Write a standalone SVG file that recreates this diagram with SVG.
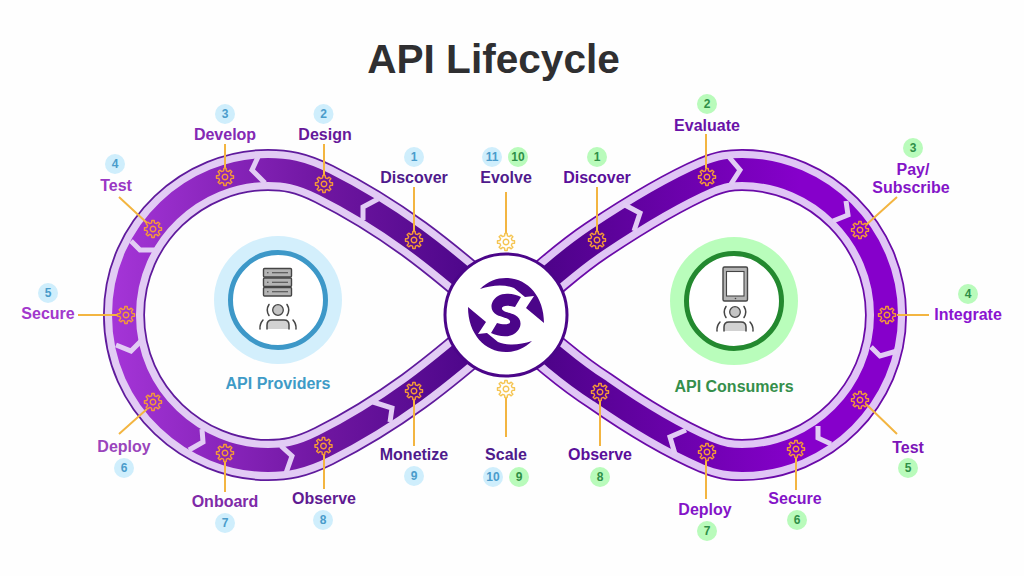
<svg xmlns="http://www.w3.org/2000/svg" width="1024" height="576" viewBox="0 0 1024 576">
<style>
text{font-family:"Liberation Sans",Arial,sans-serif;font-weight:700;text-anchor:middle}
.lb{font-size:16px}
.n{font-size:12px}
.bb{fill:#cfeefc}
.bg{fill:#b9fbbb}
.tb{fill:#4a9ccb}
.tg{fill:#2f8f47}
.c{stroke:#f3b541;stroke-width:2;fill:none}
.g{fill:none;stroke:#f59a38;stroke-width:1.4;stroke-linejoin:round}
.gy{stroke:#f5c552}
.chev{fill:none;stroke:#e2ccf4;stroke-width:5;stroke-linejoin:miter}
.ic{fill:#b4b4b4;stroke:#454545;stroke-width:1.4}
.ar{fill:none;stroke:#454545;stroke-width:1.5;stroke-linecap:round}
.hd{fill:#c4c4c4;stroke:#454545;stroke-width:1.3}
.bd{fill:#d2d2d2}
</style>
<defs>
<linearGradient id="gl" gradientUnits="userSpaceOnUse" x1="480" y1="0" x2="110" y2="0"><stop offset="0" stop-color="#4b0589"/><stop offset=".4" stop-color="#6d159f"/><stop offset="1" stop-color="#a535d8"/></linearGradient>
<linearGradient id="gr" gradientUnits="userSpaceOnUse" x1="530" y1="0" x2="800" y2="0"><stop offset="0" stop-color="#4a0385"/><stop offset="1" stop-color="#8600cb"/></linearGradient>
<g id="gear"><path d="M-1.42,-6.14L-1.2,-8.52L1.2,-8.52L1.42,-6.14L3.34,-5.34L5.18,-6.87L6.87,-5.18L5.34,-3.34L6.14,-1.42L8.52,-1.2L8.52,1.2L6.14,1.42L5.34,3.34L6.87,5.18L5.18,6.87L3.34,5.34L1.42,6.14L1.2,8.52L-1.2,8.52L-1.42,6.14L-3.34,5.34L-5.18,6.87L-6.87,5.18L-5.34,3.34L-6.14,1.42L-8.52,1.2L-8.52,-1.2L-6.14,-1.42L-5.34,-3.34L-6.87,-5.18L-5.18,-6.87L-3.34,-5.34Z"/><circle r="2.8"/></g>
<g id="person"><circle r="5.3" class="hd"/><path class="ar" d="M-9,-5.5Q-12.500,0 -9,5.500M9,-5.500Q12.500,0 9,5.500"/><path class="bd" d="M-11,19V15Q-11,10 -6,10H6Q11,10 11,15V19Z"/><path class="ar" d="M-11,19V15Q-11,10 -6,10H6Q11,10 11,15V19"/><path class="ar" d="M-18,19Q-18.500,14 -15,10M18,19Q18.500,14 15,10"/></g>
<path id="l8" d="M506,315C470,283 440,258 414,239C385,218 350,197 324,184C300,172 285,170 268,170C195,170 124,230 124,315C124,400 195,460 268,460C285,460 300,458 324,446C350,433 385,412 414,391C440,372 470,347 506,315Z"/>
<path id="r8" d="M506,315C542,283 570,258 597,240C630,218 670,193 707,177C722,171 730,170 742,170C820,170 886,235 886,315C886,395 820,460 742,460C730,460 722,459 707,453C670,437 630,412 600,391C570,372 542,347 506,315Z"/>
</defs>
<rect width="1024" height="576" fill="#fefefe"/>
<text id="title" x="493.500" y="72.500" font-size="40.600" fill="#2f2f31">API Lifecycle</text>

<g id="infinity">
<g fill="none">
<use href="#l8" stroke="#5f1a9c" stroke-width="42"/>
<use href="#r8" stroke="#6a0aa8" stroke-width="42"/>
<use href="#l8" stroke="#e2ccf4" stroke-width="38.500"/>
<use href="#r8" stroke="#e0c6f5" stroke-width="38.500"/>
<use href="#l8" stroke="url(#gl)" stroke-width="24"/>
<use href="#r8" stroke="url(#gr)" stroke-width="24"/>
</g>
<polyline class="chev" points="258,157 252,170 265,183"/>
<polyline class="chev" points="378,199 363,207 363,220"/>
<polyline class="chev" points="131,241 140,250 157,250"/>
<polyline class="chev" points="116,345 131,351 141,341"/>
<polyline class="chev" points="202,429 203,442 189,450"/>
<polyline class="chev" points="281,446 292,456 286,473"/>
<polyline class="chev" points="373,402 392,408 390,422"/>
<polyline class="chev" points="623,204 640,213 634,231"/>
<polyline class="chev" points="729,157 740,170 731,184"/>
<polyline class="chev" points="846,201 848,215 833,221"/>
<polyline class="chev" points="871,347 880,356 897,351"/>
<polyline class="chev" points="818,426 818,438 831,444"/>
<polyline class="chev" points="686,430 670,437 675,454"/>
</g>

<g id="connectors">
<path class="c" d="M414,187V231M324,144V175M225,144V168M119,197L147,223M78,315H117M119,434L147,409M225,462V492M324,455V489M414,400V446M506,192V233M506,397V437M597,187V232M706,134V168M897,197L866,225M897,315H929M897,434L866,404M796,458V490M706,461V499M600,400V446"/>
</g>

<g id="hub">
<circle cx="506" cy="315" r="61" fill="#fff" stroke="#4b0589" stroke-width="3"/>
<g fill="#4b0589">
<path id="hand" d="M480,289C488,281 497,278 506,278C527,278 544,296 544,323L526,308L534,296L525,297L514,288C504,284 492,285 480,289Z"/>
<use href="#hand" transform="rotate(180 506 315)"/>
<path transform="translate(506 315)" d="M15,-18L9,-8C3,-10 -5,-10 -4,-6C-3,-3 5,-2 9,0C17,4 16,14 8,19C2,23 -9,21 -15,18L-9,8C-3,10 5,10 4,6C3,3 -5,2 -9,0C-17,-4 -16,-14 -8,-19C-2,-23 9,-21 15,-18Z"/>
</g>
</g>

<g id="api-providers">
<circle cx="278" cy="300" r="64" fill="#d3effc"/>
<circle cx="278" cy="300" r="47.500" fill="#fff" stroke="#3d98c8" stroke-width="5"/>
<rect class="ic" x="263.500" y="268.500" width="28" height="8.500" rx="1"/>
<rect class="ic" x="263.500" y="278" width="28" height="8.500" rx="1"/>
<rect class="ic" x="263.500" y="287.500" width="28" height="8.500" rx="1"/>
<path d="M272,272.700H288M272,282.200H288M272,291.700H288M267,272.700H268.500M267,282.200H268.500M267,291.700H268.500" stroke="#454545" stroke-width="1.100" fill="none"/>
<use href="#person" x="278" y="310"/>
<text class="lb" x="278" y="389" fill="#3f9bc7">API Providers</text>
</g>

<g id="api-consumers">
<circle cx="734" cy="301" r="64" fill="#b9fdbb"/>
<circle cx="734" cy="301" r="47.500" fill="#fff" stroke="#23892f" stroke-width="5"/>
<rect x="723" y="267" width="24.500" height="34" rx="1.500" fill="#b4b4b4" stroke="#454545" stroke-width="1.400"/>
<rect x="726.500" y="271.500" width="17.500" height="24.500" fill="#fff" stroke="#454545" stroke-width="1.100"/>
<circle cx="735.500" cy="298.500" r=".8" fill="#454545"/>
<use href="#person" x="735" y="312"/>
<text class="lb" x="734" y="392" fill="#358f4b">API Consumers</text>
</g>

<g id="p-discover"><use href="#gear" class="g" x="414" y="240"/><text class="lb" x="414" y="183" fill="#4f1a8c">Discover</text><circle class="bb" cx="414" cy="157" r="10"/><text class="n tb" x="414" y="161">1</text></g>
<g id="p-design"><use href="#gear" class="g" x="324" y="184"/><text class="lb" x="325" y="140" fill="#66189a">Design</text><circle class="bb" cx="323.500" cy="114" r="10"/><text class="n tb" x="323.500" y="118">2</text></g>
<g id="p-develop"><use href="#gear" class="g" x="225" y="177"/><text class="lb" x="225" y="140" fill="#8429b4">Develop</text><circle class="bb" cx="225" cy="114" r="10"/><text class="n tb" x="225" y="118">3</text></g>
<g id="p-test"><use href="#gear" class="g" x="153" y="229"/><text class="lb" x="116" y="191" fill="#9a38c4">Test</text><circle class="bb" cx="115" cy="164" r="10"/><text class="n tb" x="115" y="168">4</text></g>
<g id="p-secure"><use href="#gear" class="g" x="126" y="315"/><text class="lb" x="48" y="319" fill="#a238cc">Secure</text><circle class="bb" cx="48" cy="293" r="10"/><text class="n tb" x="48" y="297">5</text></g>
<g id="p-deploy"><use href="#gear" class="g" x="153" y="402"/><text class="lb" x="124" y="452" fill="#9a45bc">Deploy</text><circle class="bb" cx="124" cy="468" r="10"/><text class="n tb" x="124" y="472">6</text></g>
<g id="p-onboard"><use href="#gear" class="g" x="225" y="453"/><text class="lb" x="225" y="507" fill="#7f2aa8">Onboard</text><circle class="bb" cx="225" cy="523" r="10"/><text class="n tb" x="225" y="527">7</text></g>
<g id="p-observe"><use href="#gear" class="g" x="323.500" y="446"/><text class="lb" x="324" y="504" fill="#5f1a92">Observe</text><circle class="bb" cx="323" cy="520" r="10"/><text class="n tb" x="323" y="524">8</text></g>
<g id="p-monetize"><use href="#gear" class="g" x="414" y="391"/><text class="lb" x="414" y="460" fill="#4f1a8c">Monetize</text><circle class="bb" cx="414" cy="476" r="10"/><text class="n tb" x="414" y="480">9</text></g>

<g id="evolve"><use href="#gear" class="g gy" x="506" y="242"/><text class="lb" x="506" y="183" fill="#4f1a8c">Evolve</text><circle class="bb" cx="492" cy="157" r="10"/><text class="n tb" x="492" y="161">11</text><circle class="bg" cx="518" cy="157" r="10"/><text class="n tg" x="518" y="161">10</text></g>
<g id="scale"><use href="#gear" class="g gy" x="506" y="389"/><text class="lb" x="506" y="460" fill="#4f1a8c">Scale</text><circle class="bb" cx="493" cy="477" r="10"/><text class="n tb" x="493" y="481">10</text><circle class="bg" cx="519" cy="477" r="10"/><text class="n tg" x="519" y="481">9</text></g>

<g id="c-discover"><use href="#gear" class="g" x="597" y="240"/><text class="lb" x="597" y="183" fill="#5a0f9a">Discover</text><circle class="bg" cx="597" cy="157" r="10"/><text class="n tg" x="597" y="161">1</text></g>
<g id="c-evaluate"><use href="#gear" class="g" x="707" y="177"/><text class="lb" x="707" y="131" fill="#6a12a8">Evaluate</text><circle class="bg" cx="707" cy="104" r="10"/><text class="n tg" x="707" y="108">2</text></g>
<g id="c-pay"><use href="#gear" class="g" x="860" y="230"/><text class="lb" x="913" y="175" fill="#8414c8">Pay/</text><text class="lb" x="911" y="193" fill="#8414c8">Subscribe</text><circle class="bg" cx="913" cy="148" r="10"/><text class="n tg" x="913" y="152">3</text></g>
<g id="c-integrate"><use href="#gear" class="g" x="887" y="315"/><text class="lb" x="968" y="320" fill="#8a14d0">Integrate</text><circle class="bg" cx="968" cy="294" r="10"/><text class="n tg" x="968" y="298">4</text></g>
<g id="c-test"><use href="#gear" class="g" x="860" y="400"/><text class="lb" x="908" y="453" fill="#7c14b8">Test</text><circle class="bg" cx="908" cy="468" r="10"/><text class="n tg" x="908" y="472">5</text></g>
<g id="c-secure"><use href="#gear" class="g" x="796" y="449"/><text class="lb" x="795" y="504" fill="#8414c8">Secure</text><circle class="bg" cx="797" cy="520" r="10"/><text class="n tg" x="797" y="524">6</text></g>
<g id="c-deploy"><use href="#gear" class="g" x="707" y="452"/><text class="lb" x="705" y="515" fill="#8414c8">Deploy</text><circle class="bg" cx="707" cy="531" r="10"/><text class="n tg" x="707" y="535">7</text></g>
<g id="c-observe"><use href="#gear" class="g" x="600" y="392"/><text class="lb" x="600" y="460" fill="#5a0f9a">Observe</text><circle class="bg" cx="600" cy="477" r="10"/><text class="n tg" x="600" y="481">8</text></g>
</svg>
